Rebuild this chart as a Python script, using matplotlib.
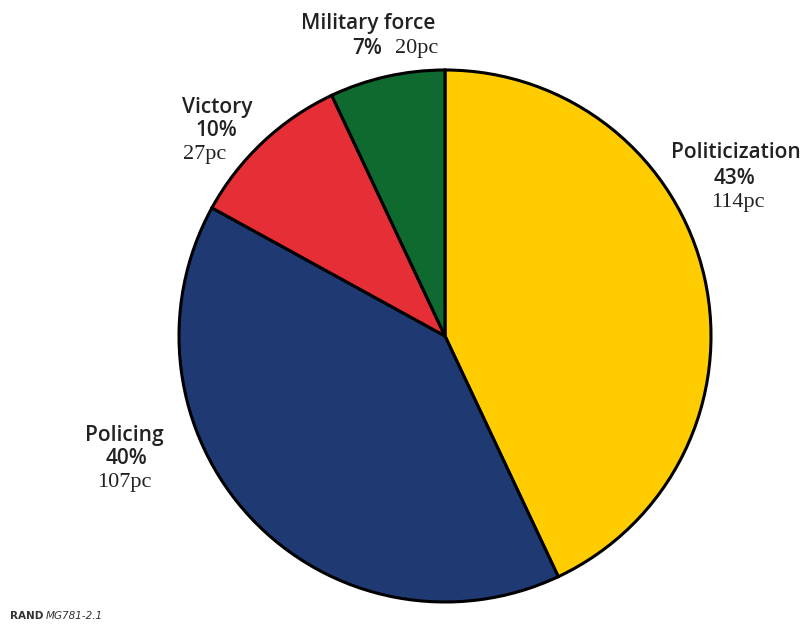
import matplotlib.pyplot as plt

labels = ['Politicization', 'Policing', 'Victory', 'Military force']
shares = [43, 40, 10, 7]
counts = [114, 107, 27, 20]
colors = ['#FFCC00', '#1F3A73', '#E62E36', '#0F6A2F']

W, H = 805, 626
fig = plt.figure(figsize=(W / 100, H / 100), dpi=100)
ax = fig.add_axes([0, 0, 1, 1])
ax.set_aspect('equal')
ax.axis('off')

ax.pie(shares, colors=colors, startangle=90, counterclock=False,
       center=(445, H - 336), radius=266,
       wedgeprops=dict(edgecolor='black', linewidth=2.2))
ax.set_xlim(0, W)
ax.set_ylim(0, H)

sans = dict(family=['Open Sans', 'DejaVu Sans'], fontsize=15, fontweight='semibold', color='#222222')
serif = dict(family=['Liberation Serif', 'DejaVu Serif'], fontsize=16, color='#222222')

def y(p):
    return H - p

# Politicization
ax.text(736, y(152), labels[0], ha='center', va='center', **sans)
ax.text(734, y(178), f'{shares[0]}%', ha='center', va='center', **sans)
ax.text(738, y(202), f'{counts[0]}pc', ha='center', va='center', **serif)

# Policing
ax.text(124, y(436), labels[1], ha='center', va='center', **sans)
ax.text(126, y(459), f'{shares[1]}%', ha='center', va='center', **sans)
ax.text(124, y(483), f'{counts[1]}pc', ha='center', va='center', **serif)

# Victory
ax.text(217, y(108), labels[2], ha='center', va='center', **sans)
ax.text(216, y(131), f'{shares[2]}%', ha='center', va='center', **sans)
ax.text(205, y(155), f'{counts[2]}pc', ha='center', va='center', **serif)

# Military force
ax.text(368, y(23), labels[3], ha='center', va='center', **sans)
ax.text(367, y(48), f'{shares[3]}%', ha='center', va='center', **sans)
ax.text(417, y(48), f'{counts[3]}pc', ha='center', va='center', **serif)

ax.text(10, y(616), 'RAND', ha='left', va='center', fontsize=7.5, fontweight='bold', color='#333333')
ax.text(46, y(616), 'MG781-2.1', ha='left', va='center', fontsize=7.5, style='italic', color='#333333')

fig.savefig('out.png', dpi=100)
